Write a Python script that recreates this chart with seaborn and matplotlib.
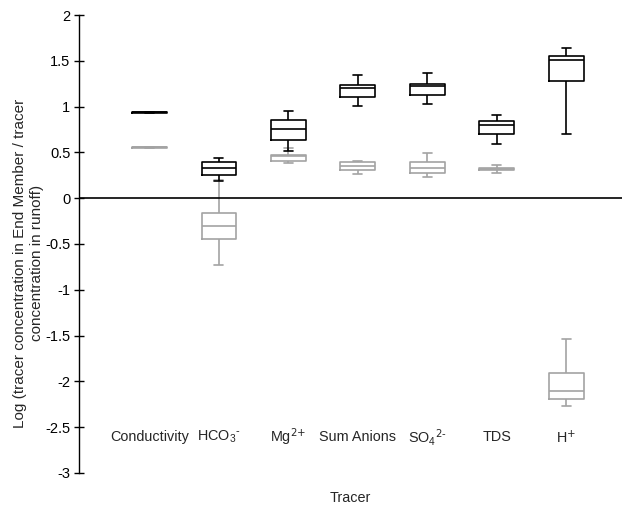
import numpy as np
import pandas as pd
import matplotlib
matplotlib.use("Agg")
import matplotlib.pyplot as plt
import seaborn as sns

# ---- data ----
tracers = ["Conductivity", r"HCO$_3{}^{\text{-}}$", r"Mg$^{\text{2+}}$", "Sum Anions",
           r"SO$_4{}^{\text{2-}}$", "TDS", r"H$^{\text{+}}$"]

# black boxes
black_min = [0.930, 0.190, 0.520, 1.010, 1.030, 0.590, 0.700]
black_q1 = [0.932, 0.250, 0.630, 1.110, 1.130, 0.700, 1.280]
black_med = [0.940, 0.335, 0.760, 1.205, 1.220, 0.800, 1.510]
black_q3 = [0.945, 0.400, 0.850, 1.240, 1.250, 0.845, 1.550]
black_max = [0.946, 0.440, 0.950, 1.350, 1.370, 0.910, 1.640]

# grey boxes
grey_min = [0.547, -0.725, 0.383, 0.260, 0.233, 0.277, -2.270]
grey_q1 = [0.553, -0.448, 0.410, 0.303, 0.277, 0.303, -2.197]
grey_med = [0.556, -0.300, 0.465, 0.350, 0.335, 0.320, -2.106]
grey_q3 = [0.560, -0.157, 0.477, 0.393, 0.390, 0.335, -1.909]
grey_max = [0.561, 0.200, 0.550, 0.410, 0.488, 0.364, -1.541]

yticks = [-3, -2.5, -2, -1.5, -1, -0.5, 0, 0.5, 1, 1.5, 2]
ytick_labels = ["-3", "-2.5", "-2", "-1.5", "-1", "-0.5", "0", "0.5", "1", "1.5", "2"]


def long_form(mins, q1s, meds, q3s, maxs):
    rows = []
    for i, t in enumerate(tracers):
        for v in (mins[i], q1s[i], meds[i], q3s[i], maxs[i]):
            rows.append({"Tracer": t, "Value": v})
    return pd.DataFrame(rows)


df_black = long_form(black_min, black_q1, black_med, black_q3, black_max)
df_grey = long_form(grey_min, grey_q1, grey_med, grey_q3, grey_max)

sns.set_style("ticks")
plt.rcParams["font.family"] = ["Liberation Sans", "DejaVu Sans"]
plt.rcParams["mathtext.default"] = "regular"
plt.rcParams["axes.unicode_minus"] = False

fig, ax = plt.subplots(figsize=(6.23, 5.07), dpi=100)
fig.subplots_adjust(left=0.1268, right=0.998, top=0.9704, bottom=0.0671)

GREY = "#a3a3a3"
common = dict(x="Tracer", y="Value", order=tracers, fill=False, width=0.5,
              whis=(0, 100), showfliers=False, capwidths=0.13, ax=ax)
sns.boxplot(data=df_grey, color=GREY, linewidth=1.2, **common)
sns.boxplot(data=df_black, color="black", linewidth=1.2, **common)

ax.axhline(0, color="black", lw=1.2, zorder=5)

ax.set_ylim(-3, 2)
ax.set_xlim(-1.014, 6.8)
ax.set_yticks(yticks)
ax.set_yticklabels(ytick_labels, fontsize=10.5)
ax.set_xticks([])
ax.tick_params(axis="y", direction="inout", length=6.5, width=1, pad=3, colors="black")

for s in ("top", "right", "bottom"):
    ax.spines[s].set_visible(False)
ax.spines["left"].set_color("black")
ax.spines["left"].set_linewidth(1)

for i, t in enumerate(tracers):
    ax.text(i, -2.61, t, ha="center", va="center", fontsize=10.4)

ax.set_xlabel("Tracer", fontsize=10.4, labelpad=13)
ax.set_ylabel("Log (tracer concentration in End Member / tracer\nconcentration in runoff)",
              fontsize=11, linespacing=1.3)
ax.yaxis.set_label_coords(-0.064, 0.4585)

fig.savefig("out.png", dpi=100)
